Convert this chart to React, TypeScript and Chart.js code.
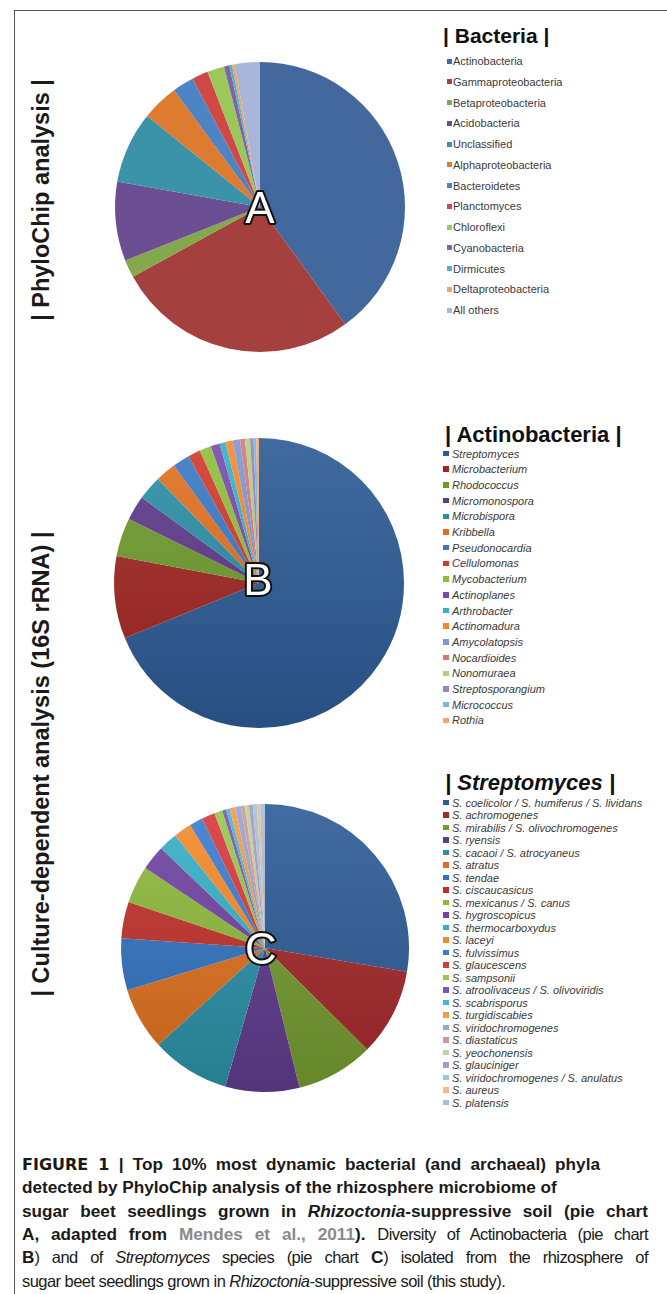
import React, { useEffect, useRef } from "react";
import { Chart, registerables } from "chart.js";

Chart.register(...registerables);

// ---------- Data ----------
const bacteriaLabels = [
  "Actinobacteria", "Gammaproteobacteria", "Betaproteobacteria", "Acidobacteria",
  "Unclassified", "Alphaproteobacteria", "Bacteroidetes", "Planctomyces",
  "Chloroflexi", "Cyanobacteria", "Dirmicutes", "Deltaproteobacteria", "All others",
];
const bacteriaValues = [40, 27, 2, 8.8, 8, 4.1, 2.4, 1.8, 1.9, 0.6, 0.3, 0.3, 2.8];
const bacteriaColors = [
  "#42689d", "#a4403d", "#84a94c", "#6c4f93", "#3a93a8", "#dd7b30", "#4d84c4",
  "#cf4a47", "#9cc75b", "#8064aa", "#4fb3cc", "#f5a45e", "#a7b6da",
];

const actinoLabels = [
  "Streptomyces", "Microbacterium", "Rhodococcus", "Micromonospora", "Microbispora",
  "Kribbella", "Pseudonocardia", "Cellulomonas", "Mycobacterium", "Actinoplanes",
  "Arthrobacter", "Actinomadura", "Amycolatopsis", "Nocardioides", "Nonomuraea",
  "Streptosporangium", "Micrococcus", "Rothia",
];
const actinoValues = [
  68.9, 9.2, 4.3, 2.75, 2.7, 2.3, 1.9, 1.4, 1.3, 1.0, 0.7, 0.8, 0.8, 0.55, 0.55, 0.4, 0.3, 0.3,
];
const actinoColors = [
  "#2c5a94", "#a12622", "#6e9a2e", "#5d3a8a", "#2a8fa6", "#e07020", "#3b78c5",
  "#d03a2a", "#8fbf3a", "#7a4aaa", "#35b0c8", "#f5892a", "#7c97d4", "#d47776",
  "#b4cd85", "#9585c0", "#74bcd8", "#f5a373",
];

const streptoLabels = [
  "S. coelicolor / S. humiferus / S. lividans", "S. achromogenes",
  "S. mirabilis / S. olivochromogenes", "S. ryensis", "S. cacaoi / S. atrocyaneus",
  "S. atratus", "S. tendae", "S. ciscaucasicus", "S. mexicanus / S. canus",
  "S. hygroscopicus", "S. thermocarboxydus", "S. laceyi", "S. fulvissimus",
  "S. glaucescens", "S. sampsonii", "S. atroolivaceus / S. olivoviridis",
  "S. scabrisporus", "S. turgidiscabies", "S. viridochromogenes", "S. diastaticus",
  "S. yeochonensis", "S. glauciniger", "S. viridochromogenes / S. anulatus",
  "S. aureus", "S. platensis",
];
const streptoValues = [
  27.6, 9.8, 8.7, 8.3, 8.8, 7.0, 5.8, 4.1, 4.2, 2.8, 2.1, 2.0, 1.5, 1.5, 0.9,
  0.45, 0.4, 0.6, 0.65, 0.45, 0.45, 0.45, 0.45, 0.35, 0.55,
];
const streptoColors = [
  "#2d5b96", "#a3282a", "#74992f", "#5e3b8c", "#2b8fa5", "#dd6f1e", "#3273c0",
  "#c0302a", "#8cb83a", "#6e43a0", "#36afc7", "#f4892a", "#3c7bd0", "#d8383a",
  "#98c84a", "#7e58b0", "#40b8d5", "#f59a45", "#97a6cf", "#d29898", "#bdd39b",
  "#a89bc6", "#98c9da", "#f6b88d", "#a6bedd",
];

// ---------- helpers ----------
function shade(hex: string, f: number): string {
  const n = parseInt(hex.slice(1), 16);
  let r = (n >> 16) & 255, g = (n >> 8) & 255, b = n & 255;
  if (f >= 0) {
    r = Math.round(r + (255 - r) * f); g = Math.round(g + (255 - g) * f); b = Math.round(b + (255 - b) * f);
  } else {
    r = Math.round(r * (1 + f)); g = Math.round(g * (1 + f)); b = Math.round(b * (1 + f));
  }
  return `rgb(${r},${g},${b})`;
}

type PieProps = {
  labels: string[];
  values: number[];
  colors: string[];
  letter: string;
  cx: number;
  cy: number;
  r: number;
  gradient: boolean;
  letterDx: number;
  letterDy: number;
};

function PieChart(p: PieProps) {
  const ref = useRef<HTMLCanvasElement | null>(null);
  const pad = 4;
  const size = p.r * 2 + pad * 2;
  useEffect(() => {
    if (!ref.current) return;
    const letterPlugin = {
      id: "letter",
      afterDraw(chart: any) {
        const ctx = chart.ctx as CanvasRenderingContext2D;
        const x = (chart.chartArea.left + chart.chartArea.right) / 2 + p.letterDx;
        const y = (chart.chartArea.top + chart.chartArea.bottom) / 2 + p.letterDy;
        ctx.save();
        ctx.font = '44px "Liberation Sans", Arial, sans-serif';
        ctx.textAlign = "center";
        ctx.textBaseline = "middle";
        ctx.lineJoin = "round";
        ctx.lineWidth = 4;
        ctx.strokeStyle = "#111";
        ctx.strokeText(p.letter, x, y);
        ctx.fillStyle = "#fff";
        ctx.fillText(p.letter, x, y);
        ctx.restore();
      },
    };
    const bg = p.gradient
      ? (c: any) => {
          const chart = c.chart;
          const base = p.colors[c.dataIndex % p.colors.length];
          const area = chart.chartArea;
          if (!area) return base;
          const g = chart.ctx.createLinearGradient(0, area.top, 0, area.bottom);
          g.addColorStop(0, shade(base, 0.1));
          g.addColorStop(1, shade(base, -0.12));
          return g;
        }
      : p.colors;
    const chart = new Chart(ref.current, {
      type: "pie",
      data: {
        labels: p.labels,
        datasets: [
          {
            data: p.values,
            backgroundColor: bg as any,
            borderWidth: 0,
          },
        ],
      },
      options: {
        animation: false,
        responsive: false,
        maintainAspectRatio: false,
        layout: { padding: pad },
        plugins: { legend: { display: false }, tooltip: { enabled: false } },
      },
      plugins: [letterPlugin],
    });
    return () => chart.destroy();
  }, []);
  return (
    <canvas
      ref={ref}
      width={size}
      height={size}
      style={{ position: "absolute", left: p.cx - size / 2, top: p.cy - size / 2, width: size, height: size }}
    />
  );
}

type LegendProps = {
  title: string;
  titleItalic: boolean;
  titleSize: number;
  titleLeft: number;
  titleBaseline: number;
  labels: string[];
  colors: string[];
  italic: boolean;
  fontSize: number;
  first: number;
  step: number;
  markerLeft: number;
  markerSize: number;
  textLeft: number;
};

function Legend(l: LegendProps) {
  return (
    <>
      <div
        style={{
          position: "absolute",
          left: l.titleLeft,
          top: l.titleBaseline - l.titleSize * 0.905,
          fontFamily: '"Liberation Sans", Arial, sans-serif',
          fontWeight: "bold",
          fontStyle: l.titleItalic ? "italic" : "normal",
          fontSize: l.titleSize,
          lineHeight: `${l.titleSize * 1.15}px`,
          color: "#111",
          whiteSpace: "nowrap",
        }}
      >
        {l.title}
      </div>
      {l.labels.map((lab, i) => {
        const cy = l.first + i * l.step;
        return (
          <React.Fragment key={i}>
            <div
              style={{
                position: "absolute",
                left: l.markerLeft,
                top: cy - l.markerSize / 2,
                width: l.markerSize,
                height: l.markerSize,
                background: l.colors[i],
              }}
            />
            <div
              style={{
                position: "absolute",
                left: l.textLeft,
                top: cy - 8,
                height: 16,
                lineHeight: "16px",
                fontFamily: '"Liberation Sans", Arial, sans-serif',
                fontStyle: l.italic ? "italic" : "normal",
                fontSize: l.fontSize,
                color: "#3a3a3a",
                whiteSpace: "nowrap",
              }}
            >
              {lab}
            </div>
          </React.Fragment>
        );
      })}
    </>
  );
}

const capFont = '"Liberation Sans", Arial, sans-serif';

export default function App() {
  const lineTop = (i: number) => 1153 + i * 23.3;
  const capLine = (i: number, width: number | null): React.CSSProperties => ({
    position: "absolute",
    left: 22,
    top: lineTop(i),
    width: width ?? undefined,
    fontFamily: capFont,
    fontSize: 17.2,
    lineHeight: "23.3px",
    color: "#1a1a1a",
    whiteSpace: "nowrap",
    textAlign: width ? "justify" : "left",
    textAlignLast: width ? "justify" : "auto",
  } as React.CSSProperties);
  const b: React.CSSProperties = { fontWeight: "bold" };
  const n: React.CSSProperties = { fontWeight: "normal", fontSize: 16.5, letterSpacing: -0.55 };
  const fig: React.CSSProperties = { fontWeight: "bold", fontFamily: '"DejaVu Sans", Verdana, sans-serif', fontSize: 16 };
  const vlabel: React.CSSProperties = {
    position: "absolute",
    left: 41,
    fontFamily: capFont,
    fontWeight: "bold",
    fontSize: 23.5,
    color: "#1a1a1a",
    whiteSpace: "nowrap",
    transform: "translate(-50%, -50%) rotate(-90deg)",
  };
  return (
    <div
      style={{
        position: "absolute",
        left: 0,
        top: 0,
        width: 667,
        height: 1294,
        background: "#fff",
        overflow: "hidden",
      }}
    >
      {/* frame */}
      <div style={{ position: "absolute", left: 14, top: 10, width: 653, height: 1, background: "#555" }} />
      <div style={{ position: "absolute", left: 14, top: 10, width: 1, height: 1284, background: "#555" }} />

      {/* vertical labels */}
      <div style={{ ...vlabel, top: 200 }}>| PhyloChip analysis |</div>
      <div style={{ ...vlabel, top: 764 }}>| Culture-dependent analysis (16S rRNA) |</div>

      <PieChart labels={bacteriaLabels} values={bacteriaValues} colors={bacteriaColors} letter="A"
        cx={260} cy={207} r={145} gradient={false} letterDx={0} letterDy={4} />
      <PieChart labels={actinoLabels} values={actinoValues} colors={actinoColors} letter="B"
        cx={259} cy={583} r={145} gradient={true} letterDx={-1} letterDy={0} />
      <PieChart labels={streptoLabels} values={streptoValues} colors={streptoColors} letter="C"
        cx={265} cy={948} r={144} gradient={true} letterDx={-4} letterDy={4} />

      <Legend title="| Bacteria |" titleItalic={false} titleSize={21} titleLeft={443} titleBaseline={43}
        labels={bacteriaLabels} colors={bacteriaColors} italic={false} fontSize={11}
        first={61} step={20.75} markerLeft={447} markerSize={5} textLeft={453} />
      <Legend title="| Actinobacteria |" titleItalic={false} titleSize={22} titleLeft={445} titleBaseline={442}
        labels={actinoLabels} colors={actinoColors} italic={true} fontSize={11}
        first={453.5} step={15.7} markerLeft={443} markerSize={5.5} textLeft={452} />
      <Legend title="| Streptomyces |" titleItalic={true} titleSize={22} titleLeft={445} titleBaseline={790}
        labels={streptoLabels} colors={streptoColors} italic={true} fontSize={11}
        first={802.5} step={12.5} markerLeft={443} markerSize={5.5} textLeft={452} />

      {/* caption */}
      <div style={capLine(0, 578)}>
        <span style={fig}>FIGURE 1</span>
        <span style={b}> | Top 10% most dynamic bacterial (and archaeal) phyla</span>
      </div>
      <div style={capLine(1, null)}>
        <span style={b}>detected by PhyloChip analysis of the rhizosphere microbiome of</span>
      </div>
      <div style={capLine(2, 626)}>
        <span style={b}>sugar beet seedlings grown in </span>
        <span style={{ ...b, fontStyle: "italic" }}>Rhizoctonia</span>
        <span style={b}>-suppressive soil (pie chart</span>
      </div>
      <div style={capLine(3, 626)}>
        <span style={b}>A, adapted from </span>
        <span style={{ ...b, color: "#8a8a8a" }}>Mendes et al., 2011</span>
        <span style={b}>). </span>
        <span style={n}>Diversity of Actinobacteria (pie chart</span>
      </div>
      <div style={capLine(4, 626)}>
        <span style={b}>B</span>
        <span style={n}>) and of </span>
        <span style={{ ...n, fontStyle: "italic" }}>Streptomyces</span>
        <span style={n}> species (pie chart </span>
        <span style={b}>C</span>
        <span style={n}>) isolated from the rhizosphere of</span>
      </div>
      <div style={capLine(5, null)}>
        <span style={n}>sugar beet seedlings grown in </span>
        <span style={{ ...n, fontStyle: "italic" }}>Rhizoctonia</span>
        <span style={n}>-suppressive soil (this study).</span>
      </div>
    </div>
  );
}
